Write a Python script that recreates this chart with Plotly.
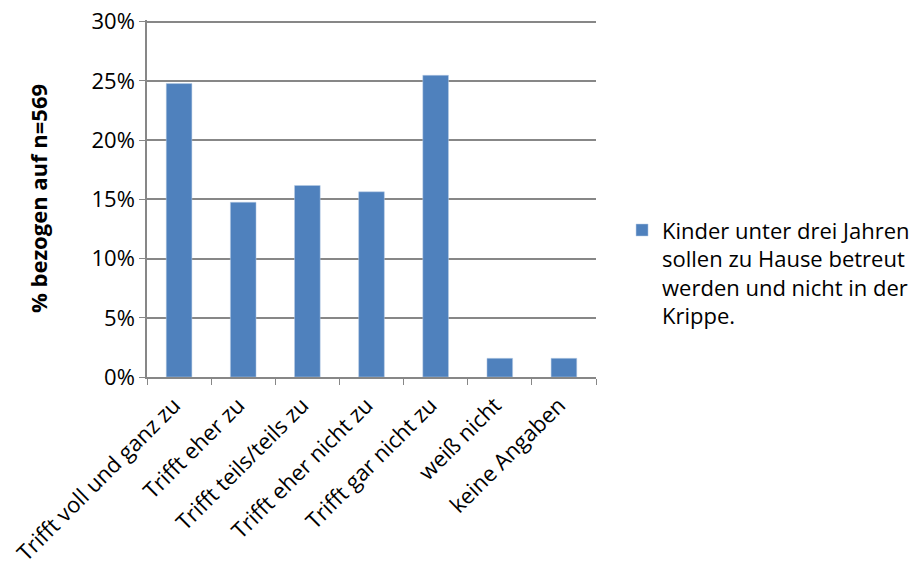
"""Bar chart: Kinder unter drei Jahren sollen zu Hause betreut werden."""
import plotly.graph_objects as go

CATEGORIES = [
    'Trifft voll und ganz zu',
    'Trifft eher zu',
    'Trifft teils/teils zu',
    'Trifft eher nicht zu',
    'Trifft gar nicht zu',
    'weiß nicht',
    'keine Angaben',
]
VALUES = [24.78, 14.76, 16.17, 15.64, 25.48, 1.58, 1.58]
SERIES_NAME = 'Kinder unter drei Jahren<br>sollen zu Hause betreut<br>werden und nicht in der<br>Krippe.'
Y_TICKS = [0, 5, 10, 15, 20, 25, 30]
Y_LABELS = ['0%', '5%', '10%', '15%', '20%', '25%', '30%']

FONT = 'Open Sans, Liberation Sans, sans-serif'
GRID = '#878787'

fig = go.Figure()
fig.add_trace(go.Bar(
    x=CATEGORIES,
    y=VALUES,
    name=SERIES_NAME,
    marker={'color': '#4F81BD', 'line': {'color': '#b9cde5', 'width': 0.5}},
    showlegend=True,
))

fig.update_layout(
    width=924,
    height=571,
    margin={'l': 147, 'r': 328, 't': 20, 'b': 194, 'autoexpand': False},
    paper_bgcolor='white',
    plot_bgcolor='white',
    font={'family': FONT, 'size': 22, 'color': '#000000'},
    bargap=0.6,
    legend={
        'x': 1.058, 'y': 0.47, 'xanchor': 'left', 'yanchor': 'top',
        'valign': 'top', 'font': {'size': 22},
        'itemwidth': 30,
    },
)
fig.update_xaxes(
    tickangle=-45,
    showline=True, linecolor=GRID, linewidth=1.5,
    ticks='outside', tickson='boundaries', ticklen=6, tickcolor=GRID,
    showgrid=False, automargin=False,
    ticklabelstandoff=5, ticklabelshift=-5,
)
fig.update_yaxes(
    range=[0, 30.15],
    tickvals=Y_TICKS,
    ticktext=Y_LABELS,
    showline=True, linecolor=GRID, linewidth=1.5,
    ticks='outside', ticklen=6, tickcolor=GRID,
    showgrid=True, gridcolor=GRID, gridwidth=1.5,
    zeroline=False, automargin=False,
    title={'text': '<b>% bezogen auf n=569</b>', 'font': {'size': 22}, 'standoff': 38},
)

# drop the default body margin so the figure fills the window exactly
fig.write_html(
    'out.html',
    config={'displayModeBar': False},
    post_script="document.body.style.margin='0';",
)
